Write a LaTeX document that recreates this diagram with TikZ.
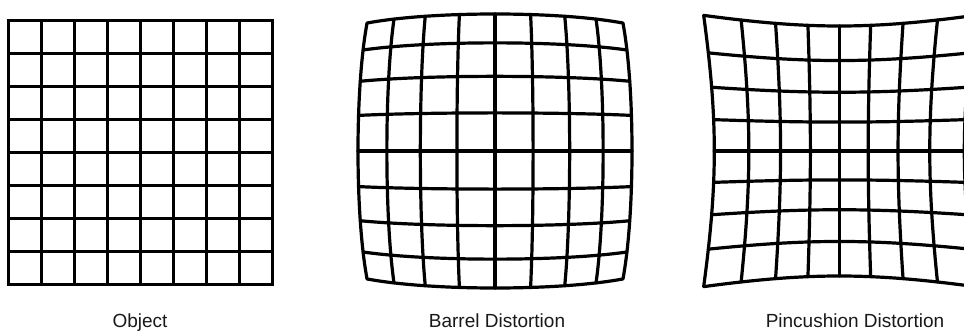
\documentclass[tikz,border=0pt]{standalone}
\usepackage{fontspec}
\setmainfont{Liberation Sans}
\begin{document}
\begin{tikzpicture}[x=1pt,y=-1pt,
  gridline/.style={line width=3.2pt, black, line cap=round, line join=round},
  flatline/.style={line width=3pt, black, line cap=rect},
  caption/.style={font=\fontsize{19}{23}\selectfont, anchor=base, inner sep=0pt, text=black!90}]
\useasboundingbox (0,0) rectangle (964,334);
\clip (0,0) rectangle (964,334);
\fill[white] (0,0) rectangle (964,334);
% Object grid
\foreach \k in {0,...,8} {
  \draw[flatline] ({8.5+33*\k},20.5) -- ({8.5+33*\k},284.5);
  \draw[flatline] (8.5,{20.5+33*\k}) -- (272.5,{20.5+33*\k});
}
% Barrel distortion
\foreach \i in {-4,...,4} {
  \pgfmathsetmacro\u{\i/4}
  \draw[gridline] plot[domain=-1:1,samples=41,variable=\t]
    ({495+137*(1.12*\u-0.12*\u*\u*\u)*(1-0.066*\t*\t)},
     {151+137*(1.12*\t-0.12*\t*\t*\t)*(1-0.066*\u*\u)});
  \draw[gridline] plot[domain=-1:1,samples=41,variable=\t]
    ({495+137*(1.12*\t-0.12*\t*\t*\t)*(1-0.066*\u*\u)},
     {151+137*(1.12*\u-0.12*\u*\u*\u)*(1-0.066*\t*\t)});
}
% Pincushion distortion
\foreach \i in {-4,...,4} {
  \pgfmathsetmacro\u{\i/4}
  \draw[gridline] plot[domain=-1:1,samples=41,variable=\t]
    ({839.3+125*(0.92*\u+0.08*\u*\u*\u)*(1+0.085*\t*\t)},
     {151+125*(0.92*\t+0.08*\t*\t*\t)*(1+0.085*\u*\u)});
  \draw[gridline] plot[domain=-1:1,samples=41,variable=\t]
    ({839.3+125*(0.92*\t+0.08*\t*\t*\t)*(1+0.085*\u*\u)},
     {151+125*(0.92*\u+0.08*\u*\u*\u)*(1+0.085*\t*\t)});
}
% Captions
\node[caption] (obj) at (140,327.5) {Object};
\node[caption] (bar) at (497,327.5) {Barrel Distortion};
\node[caption] (pin) at (855,327.5) {Pincushion Distortion};
\end{tikzpicture}
\end{document}
